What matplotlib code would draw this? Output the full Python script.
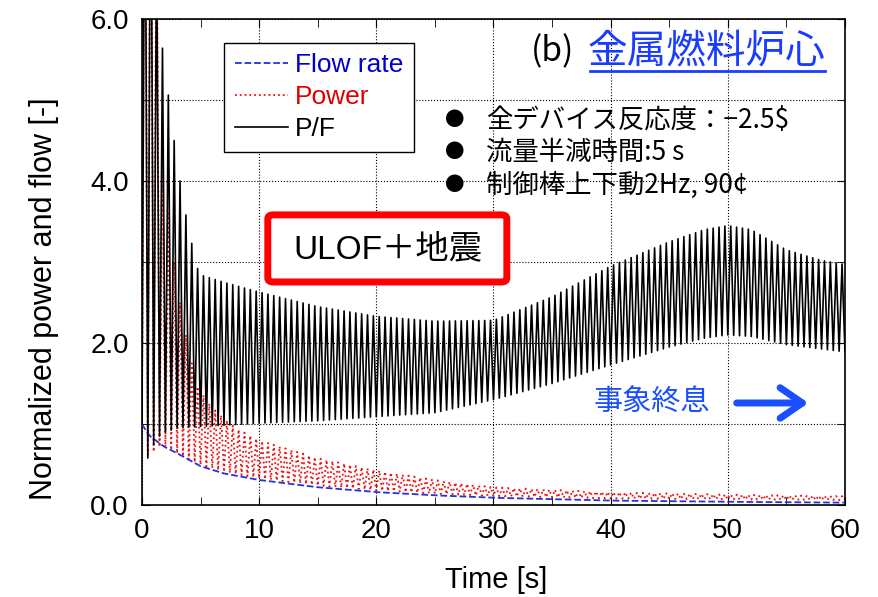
import numpy as np
import matplotlib
matplotlib.use('Agg')
import matplotlib.pyplot as plt
from matplotlib.patches import FancyBboxPatch, FancyArrowPatch
from matplotlib.ticker import MultipleLocator, FormatStrFormatter

plt.rcParams['font.family'] = ['Liberation Sans', 'Noto Sans CJK JP', 'DejaVu Sans']
JP = ['Noto Sans CJK JP', 'DejaVu Sans']
MIX = ['Liberation Sans', 'Noto Sans CJK JP', 'DejaVu Sans']

# envelopes (time [s], value)
pf_hi_t = [0.25, 0.75, 1.25, 1.75, 2.25, 2.75, 3.25, 3.75, 4.25, 4.75, 5.25, 7, 10, 15, 20, 25, 30, 35, 40, 45, 48, 50, 52, 55, 58, 60]
pf_hi_v = [9.0, 9.0, 7.0, 5.64, 5.06, 4.5, 4.0, 3.58, 3.23, 2.92, 2.83, 2.75, 2.63, 2.45, 2.33, 2.27, 2.28, 2.57, 2.95, 3.25, 3.4, 3.45, 3.4, 3.15, 3.02, 2.97]
pf_lo_t = [0, 0.5, 1.0, 1.5, 2, 3, 4, 5, 10, 15, 20, 25, 30, 35, 40, 45, 48, 50, 52, 55, 60]
pf_lo_v = [1.0, 0.58, 0.75, 0.85, 0.9, 0.95, 0.96, 0.97, 1.01, 1.04, 1.09, 1.14, 1.3, 1.5, 1.73, 1.95, 2.06, 2.1, 2.08, 1.98, 1.89]

pw_hi_t = [0.25, 0.75, 1.25, 1.75, 2.25, 2.75, 3.25, 3.75, 4.25, 4.75, 6, 8, 10, 15, 20, 25, 30, 40, 50, 60]
pw_hi_v = [9.0, 9.0, 8.0, 4.2, 3.6, 3.0, 2.5, 2.1, 1.75, 1.46, 1.2, 0.95, 0.8, 0.58, 0.43, 0.31, 0.22, 0.16, 0.13, 0.11]
pw_lo_t = [0, 0.5, 1, 1.5, 2, 3, 4, 5, 7, 10, 15, 20, 25, 30, 40, 50, 60]
pw_lo_v = [1.0, 0.62, 0.66, 0.72, 0.72, 0.64, 0.56, 0.5, 0.41, 0.33, 0.24, 0.18, 0.14, 0.11, 0.08, 0.07, 0.06]

flow_t = [0, 0.6, 1.9, 3, 4, 5, 7, 10, 15, 20, 25, 30, 40, 50, 60]
flow_v = [1.0, 0.86, 0.72, 0.64, 0.56, 0.48, 0.39, 0.31, 0.22, 0.16, 0.12, 0.09, 0.055, 0.04, 0.03]

# 2 Hz rod oscillation: alternate trough / peak every quarter second
t = np.arange(0, 60.001, 0.25)
peak = (np.round(t / 0.25).astype(int) % 2) == 1
pf = np.where(peak, np.interp(t, pf_hi_t, pf_hi_v), np.interp(t, pf_lo_t, pf_lo_v))
power = np.where(peak, np.interp(t, pw_hi_t, pw_hi_v), np.interp(t, pw_lo_t, pw_lo_v))
tf = np.linspace(0, 60, 241)
flow = np.interp(tf, flow_t, flow_v)

fig = plt.figure(figsize=(8.79, 5.97), dpi=100)
ax = fig.add_axes([0.1615, 0.154, 0.7998, 0.8142])

ax.plot(tf, flow, color='#2233dd', ls='--', lw=1.3, label='Flow rate', zorder=3)
ax.plot(t, power, color='#ee1111', ls=':', lw=1.3, label='Power', zorder=2)
ax.plot(t, pf, color='black', lw=1.2, label='P/F', zorder=4)

ax.set_xlim(0, 60)
ax.set_ylim(0, 6)
ax.xaxis.set_major_locator(MultipleLocator(10))
ax.xaxis.set_minor_locator(MultipleLocator(5))
ax.yaxis.set_major_locator(MultipleLocator(2))
ax.yaxis.set_minor_locator(MultipleLocator(1))
ax.yaxis.set_major_formatter(FormatStrFormatter('%.1f'))
ax.tick_params(which='both', direction='in', top=True, right=True, labelsize=20, pad=9.5)
ax.tick_params(which='both', length=6)
ax.grid(True, which='major', axis='x', ls=':', color='black', lw=0.8)
ax.grid(True, which='both', axis='y', ls=':', color='black', lw=0.8)
for s in ax.spines.values():
    s.set_linewidth(1.2)

ax.set_xlabel('Time [s]', fontsize=21, va='center')
ax.xaxis.set_label_coords(0.504, -0.154)
ax.set_ylabel('Normalized power and flow [-]', fontsize=22, va='center')
ax.yaxis.set_label_coords(-0.139, 0.424)

leg = ax.legend(loc='upper left', bbox_to_anchor=(0.117, 0.951), fontsize=19,
                frameon=True, fancybox=False, edgecolor='black', framealpha=1,
                handlelength=2.0, handletextpad=0.27, borderpad=0.4,
                labelspacing=0.3, borderaxespad=0)
leg.get_frame().set_linewidth(1.0)
leg.set_zorder(10)
for txt, c in zip(leg.get_texts(), ['#0000cc', '#dd0000', 'black']):
    txt.set_color(c)

ax.text(0.553, 0.932, '(b)', transform=ax.transAxes, fontsize=24, family=JP,
        va='center', ha='left', zorder=10)
ax.text(0.972, 0.932, '金属燃料炉心', transform=ax.transAxes, fontsize=28.5,
        family=JP, color='#1a3cff', va='center', ha='right', zorder=10)
ax.plot([0.637, 0.972], [0.893, 0.893], transform=ax.transAxes, color='#1a3cff',
        lw=2, zorder=10, clip_on=False)

bullets = ['全デバイス反応度：−2.5$', '流量半減時間:5 s', '制御棒上下動2Hz, 90¢']
for i, b in enumerate(bullets):
    y = 0.792 - i * 0.067
    ax.text(0.445, y, '●', transform=ax.transAxes, fontsize=14,
            family=JP, va='center', ha='center', zorder=10)
    ax.text(0.489, y, b, transform=ax.transAxes, fontsize=19,
            family=JP, va='center', ha='left', zorder=10)

box = FancyBboxPatch((0.179, 0.459), 0.340, 0.138, transform=ax.transAxes,
                     boxstyle='round,pad=0,rounding_size=0.008', fc='white',
                     ec='#ff0000', lw=5, zorder=11)
ax.add_patch(box)
ax.text(0.350, 0.525, 'ULOF＋地震', transform=ax.transAxes, fontsize=24,
        family=MIX, va='center', ha='center', zorder=12)

ax.text(0.808, 0.21, '事象終息', transform=ax.transAxes, fontsize=21,
        family=JP, color='#1a4fff', va='center', ha='right', zorder=10)
ax.add_patch(FancyArrowPatch((0.842, 0.21), (0.952, 0.21), transform=ax.transAxes,
                             arrowstyle='->,head_length=16,head_width=11',
                             mutation_scale=1, color='#1a4fff', lw=5,
                             capstyle='round', joinstyle='round', zorder=10))

fig.savefig('out.png', dpi=100)
